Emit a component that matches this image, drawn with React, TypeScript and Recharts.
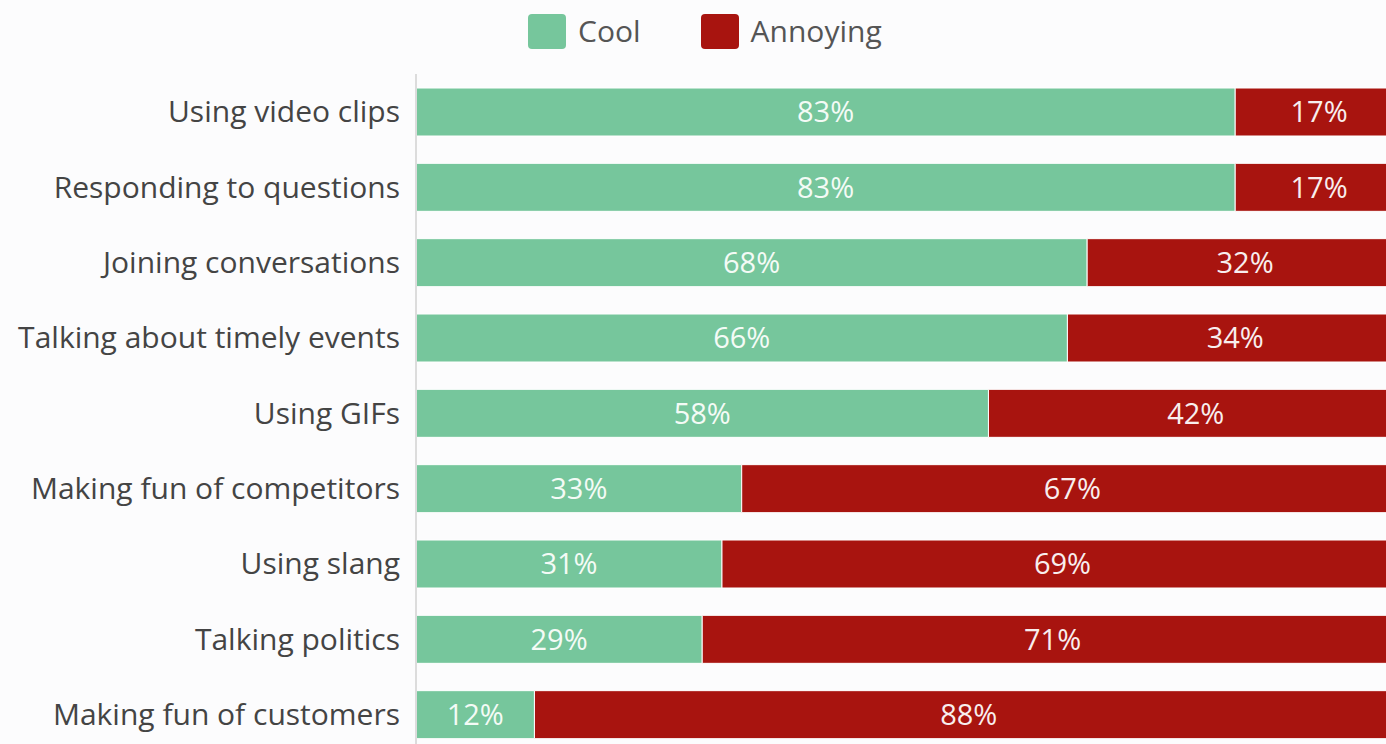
import React from "react";
import { BarChart, Bar, XAxis, YAxis, LabelList } from "recharts";

const categories = [
  "Using video clips",
  "Responding to questions",
  "Joining conversations",
  "Talking about timely events",
  "Using GIFs",
  "Making fun of competitors",
  "Using slang",
  "Talking politics",
  "Making fun of customers",
];
const cool = [83, 83, 68, 66, 58, 33, 31, 29, 12];
const annoying = [17, 17, 32, 34, 42, 67, 69, 71, 88];

const GREEN = "#76c69c";
const RED = "#a8140f";

const data = categories.map((name, i) => ({ name, cool: cool[i], annoying: annoying[i] }));

const font = "'Open Sans', sans-serif";

const legendItems = [
  { label: "Cool", color: GREEN },
  { label: "Annoying", color: RED },
];

export default function App() {
  return (
    <div style={{ position: "absolute", left: 0, top: 0, width: 1386, height: 744, overflow: "hidden", background: "#fcfcfd" }}>
      <div style={{ position: "absolute", left: 528, top: 13, display: "flex", gap: 60 }}>
        {legendItems.map((it) => (
          <div key={it.label} style={{ display: "flex", alignItems: "center", gap: 12 }}>
            <span
              style={{ width: 38, height: 35, borderRadius: 4, backgroundColor: it.color, display: "inline-block" }}
            />
            <span style={{ fontSize: 30, color: "#555", fontFamily: font, lineHeight: "36px" }}>{it.label}</span>
          </div>
        ))}
      </div>
      {/* the source image is cropped on the right, so the plot runs past the window */}
      <BarChart
        width={1403}
        height={752}
        data={data}
        layout="vertical"
        margin={{ top: 74, right: 0, bottom: 0, left: 0 }}
      >
        <XAxis type="number" domain={[0, 100]} hide />
        <YAxis
          type="category"
          dataKey="name"
          width={416}
          axisLine={{ stroke: "#dcdcdc", strokeWidth: 2 }}
          tickLine={false}
          tickMargin={10}
          tick={{ fontSize: 30, fill: "#444", fontFamily: font }}
          interval={0}
        />
        <Bar dataKey="cool" stackId="a" fill={GREEN} barSize={48} stroke="#ffffff" strokeWidth={1} isAnimationActive={false}>
          <LabelList dataKey="cool" position="center" formatter={(v: number) => `${v}%`} fill="#f4fbf6" fontSize={29} fontFamily={font} />
        </Bar>
        <Bar dataKey="annoying" stackId="a" fill={RED} barSize={48} stroke="#ffffff" strokeWidth={1} isAnimationActive={false}>
          <LabelList dataKey="annoying" position="center" formatter={(v: number) => `${v}%`} fill="#f8eeee" fontSize={29} fontFamily={font} />
        </Bar>
      </BarChart>
    </div>
  );
}
